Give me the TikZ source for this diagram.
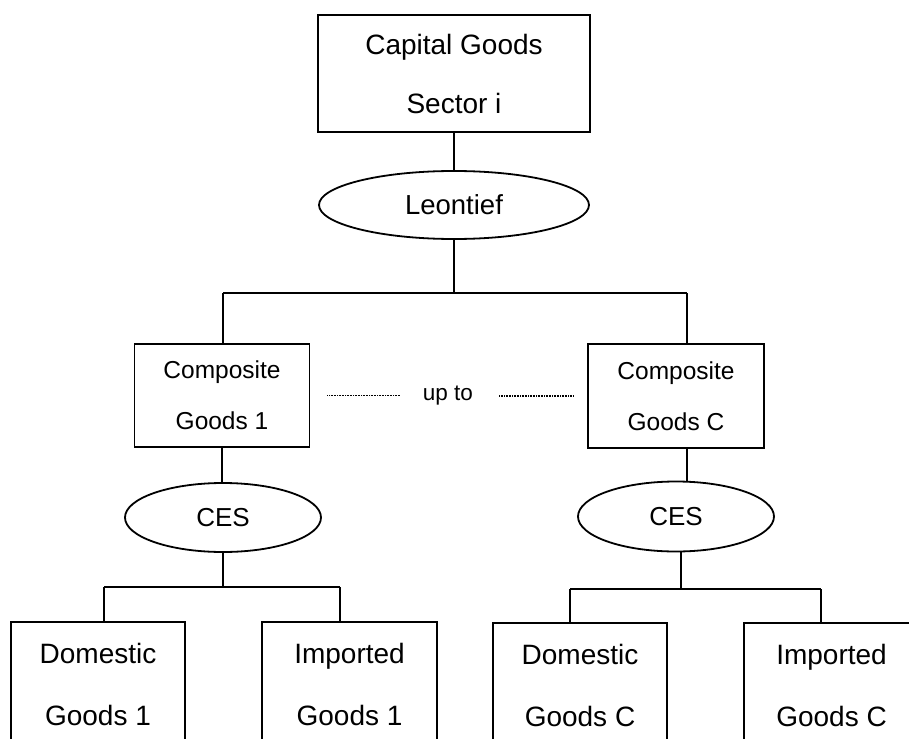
\documentclass[tikz,border=0pt]{standalone}
\usepackage{fontspec}
\setmainfont{Liberation Sans}
\usetikzlibrary{shapes.geometric}

\begin{document}
\begin{tikzpicture}[x=1pt,y=-1pt,
  link/.style={line width=1.8pt},
  box/.style={draw, line width=1.8pt, rectangle, inner sep=0pt, align=center},
  oval/.style={draw, line width=1.8pt, ellipse, inner sep=0pt},
  dotline/.style={line width=1.2pt, dash pattern=on 0.8pt off 0.8pt},
  big/.style={font=\fontsize{28}{62}\selectfont},
  mid/.style={font=\fontsize{24.5}{51}\selectfont}]
\useasboundingbox (0,0) rectangle (909,738);
\clip (0,0) rectangle (909,738);

% top level
\node[box, minimum width=272pt, minimum height=117pt, font=\fontsize{28}{59}\selectfont]
  (cap) at (454,73.5) {Capital Goods\\Sector i};
\node[oval, minimum width=270pt, minimum height=68pt, font=\fontsize{27.5}{33}\selectfont]
  (leo) at (454,205) {Leontief};

% composite goods
\node[box, mid, minimum width=175pt, minimum height=103pt] (c1) at (222,395.5) {Composite\\Goods 1};
\node[box, mid, minimum width=176pt, minimum height=104pt] (cC) at (676,396) {Composite\\Goods C};
\node[inner sep=0pt, font=\fontsize{22.5}{27}\selectfont] (upto) at (448,396) {up to};

% CES nests
\node[oval, minimum width=196pt, minimum height=69pt, font=\fontsize{26}{31}\selectfont]
  (cesL) at (223,517.5) {CES};
\node[oval, minimum width=196pt, minimum height=70pt, font=\fontsize{26}{31}\selectfont]
  (cesR) at (676,516.5) {CES};

% domestic and imported goods
\node[box, big, minimum width=174pt, minimum height=124pt] (d1) at (98,684) {Domestic\\Goods 1};
\node[box, big, minimum width=175pt, minimum height=124pt] (i1) at (349.5,684) {Imported\\Goods 1};
\node[box, big, minimum width=174pt, minimum height=124pt] (dC) at (580,685) {Domestic\\Goods C};
\node[box, big, minimum width=175pt, minimum height=124pt] (iC) at (831.5,685) {Imported\\Goods C};

% branching bars
\coordinate (tb1) at (223,293);
\coordinate (tb2) at (687,293);
\coordinate (lb1) at (104,587);
\coordinate (lb2) at (340,587);
\coordinate (rb1) at (570,589);
\coordinate (rb2) at (821,589);
\coordinate (rm)  at (681,589);

\draw[link] (cap.south) -- (leo.north);
\draw[link] (leo.south) -- (leo.south |- tb1);
\draw[link] (tb1) -- (tb2);
\draw[link] (tb1) -- (tb1 |- c1.north);
\draw[link] (tb2) -- (tb2 |- cC.north);

\draw[link] (c1.south) -- (c1.south |- cesL.north);
\draw[link] (tb2 |- cC.south) -- (tb2 |- cesR.north);

\draw[link] (cesL.south) -- (cesL.south |- lb1);
\draw[link] (lb1) -- (lb2);
\draw[link] (lb1) -- (lb1 |- d1.north);
\draw[link] (lb2) -- (lb2 |- i1.north);

\draw[link] (rm |- cesR.south) -- (rm);
\draw[link] (rb1) -- (rb2);
\draw[link] (rb1) -- (rb1 |- dC.north);
\draw[link] (rb2) -- (rb2 |- iC.north);

% dotted "up to" links
\draw[dotline, shorten <=17pt, shorten >=23pt] (c1.east) -- (c1.east -| upto.west);
\draw[dotline, shorten <=26pt, shorten >=14pt] (cC.west -| upto.east) -- (cC.west);
\end{tikzpicture}
\end{document}
